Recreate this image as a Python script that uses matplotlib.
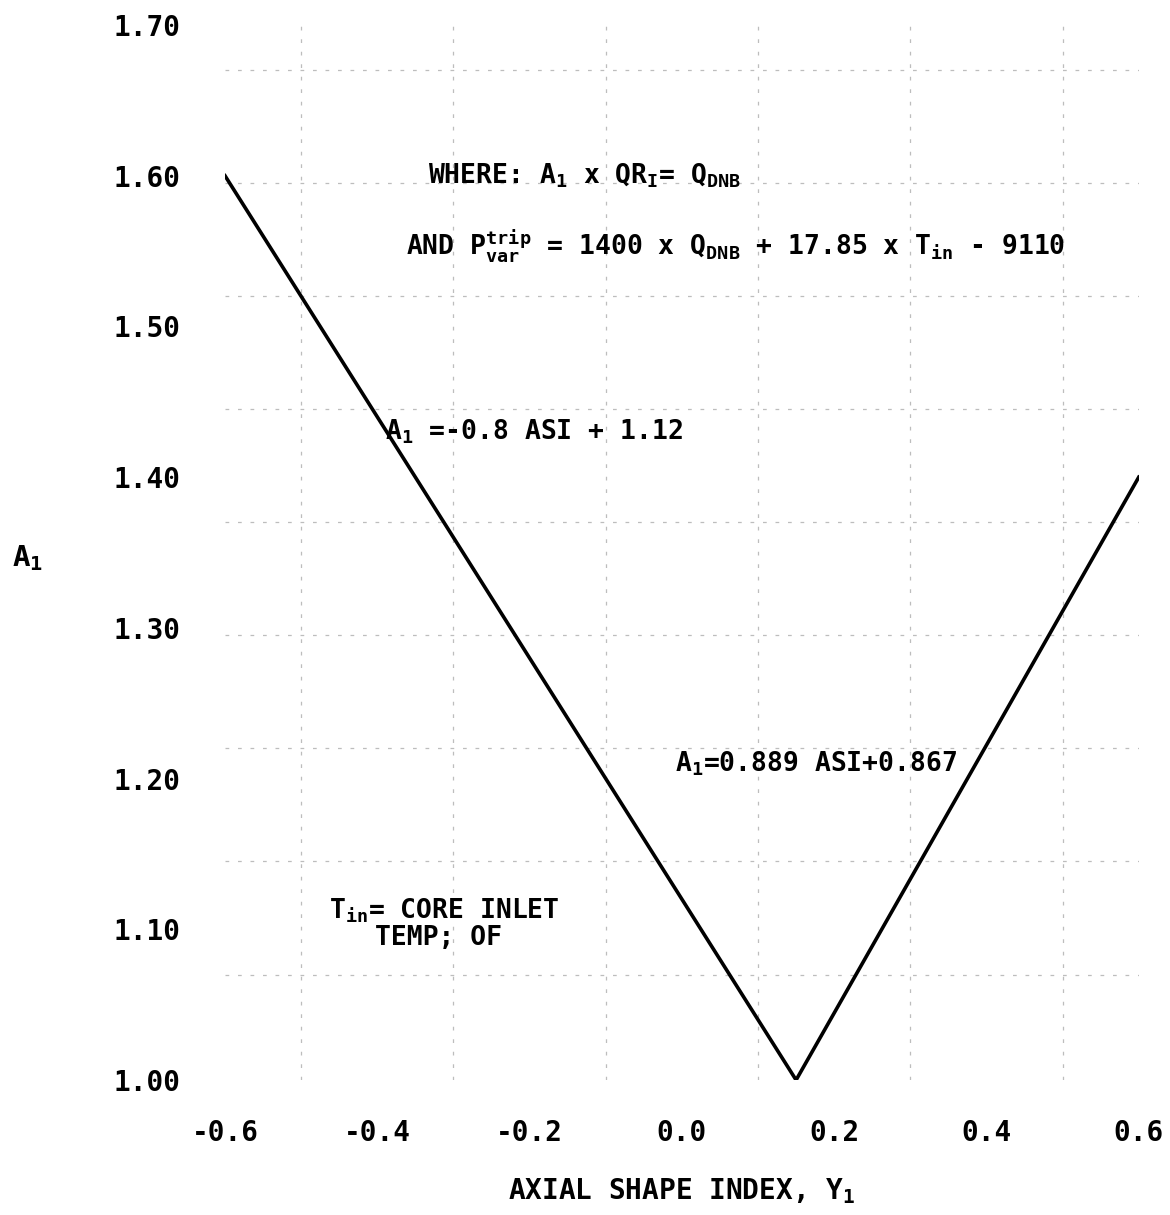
import numpy as np
import matplotlib
matplotlib.use("Agg")
import matplotlib.pyplot as plt

plt.rcParams['font.family'] = ['DejaVu Sans Mono', 'DejaVu Sans']
plt.rcParams['mathtext.fontset'] = 'custom'
plt.rcParams['mathtext.rm'] = 'DejaVu Sans Mono'
plt.rcParams['mathtext.it'] = 'DejaVu Sans Mono'
plt.rcParams['mathtext.bf'] = 'DejaVu Sans Mono:bold'
plt.rcParams['mathtext.default'] = 'regular'

# A1 limit line: two straight segments meeting at the vertex
asi = [-0.6, 0.15, 0.6]
a1 = [1.60, 1.00, 1.40]

xticks = [-0.6, -0.4, -0.2, 0.0, 0.2, 0.4, 0.6]
xtick_labels = ['-0.6', '-0.4', '-0.2', '0.0', '0.2', '0.4', '0.6']
yticks = [1.00, 1.10, 1.20, 1.30, 1.40, 1.50, 1.60, 1.70]
ytick_labels = ['1.00', '1.10', '1.20', '1.30', '1.40', '1.50', '1.60', '1.70']

# faint graph-paper lines
grid_x = [-0.5, -0.4, -0.3, -0.2, -0.1, 0.0, 0.1, 0.2, 0.3, 0.4, 0.5]
grid_y = [1.07, 1.145, 1.22, 1.295, 1.37, 1.445, 1.52, 1.595, 1.67]

fig = plt.figure(figsize=(11.7, 12.15), dpi=100)
ax = fig.add_axes([0.1923, 0.1111, 0.781, 0.8683])

ax.plot(asi, a1, color='black', lw=2.6, solid_joinstyle='miter')

ax.set_xlim(-0.6, 0.6)
ax.set_ylim(1.0, 1.7)
for s in ax.spines.values():
    s.set_visible(False)

ax.set_xticks(xticks)
ax.set_xticklabels(xtick_labels)
ax.set_yticks(yticks)
ax.set_yticklabels(ytick_labels)
ax.set_xticks(grid_x, minor=True)
ax.set_yticks(grid_y, minor=True)
ax.tick_params(which='both', length=0)
ax.tick_params(axis='y', pad=32, labelsize=20)
ax.tick_params(axis='x', pad=28, labelsize=20)
for lab in ax.get_xticklabels() + ax.get_yticklabels():
    lab.set_fontweight('bold')
ax.grid(which='minor', color='#888888', lw=0.9, ls=(0, (3, 7)), alpha=0.55)

ax.set_xlabel('AXIAL SHAPE INDEX, $Y_1$', fontsize=20, fontweight='bold', va='center')
ax.xaxis.set_label_coords(0.5, -0.105)
ax.set_ylabel('$A_1$', fontsize=21, fontweight='bold', rotation=0, ha='left', va='center')
ax.yaxis.set_label_coords(-0.233, 0.495)

txt = dict(fontsize=19, fontweight='bold', color='black', va='center', ha='left')
ax.text(-0.334, 1.600, 'WHERE: $A_1$ x $QR_I$= $Q_{DNB}$', **txt)
ax.text(-0.362, 1.553, 'AND $P^{trip}_{var}$ = 1400 x $Q_{DNB}$ + 17.85 x $T_{in}$ - 9110', **txt)
ax.text(-0.390, 1.430, '$A_1$ =-0.8 ASI + 1.12', **txt)
ax.text(-0.009, 1.210, '$A_1$=0.889 ASI+0.867', **txt)
ax.text(-0.464, 1.112, '$T_{in}$= CORE INLET', **txt)
ax.text(-0.403, 1.094, 'TEMP; OF', **txt)

fig.savefig('out.png', dpi=100)
